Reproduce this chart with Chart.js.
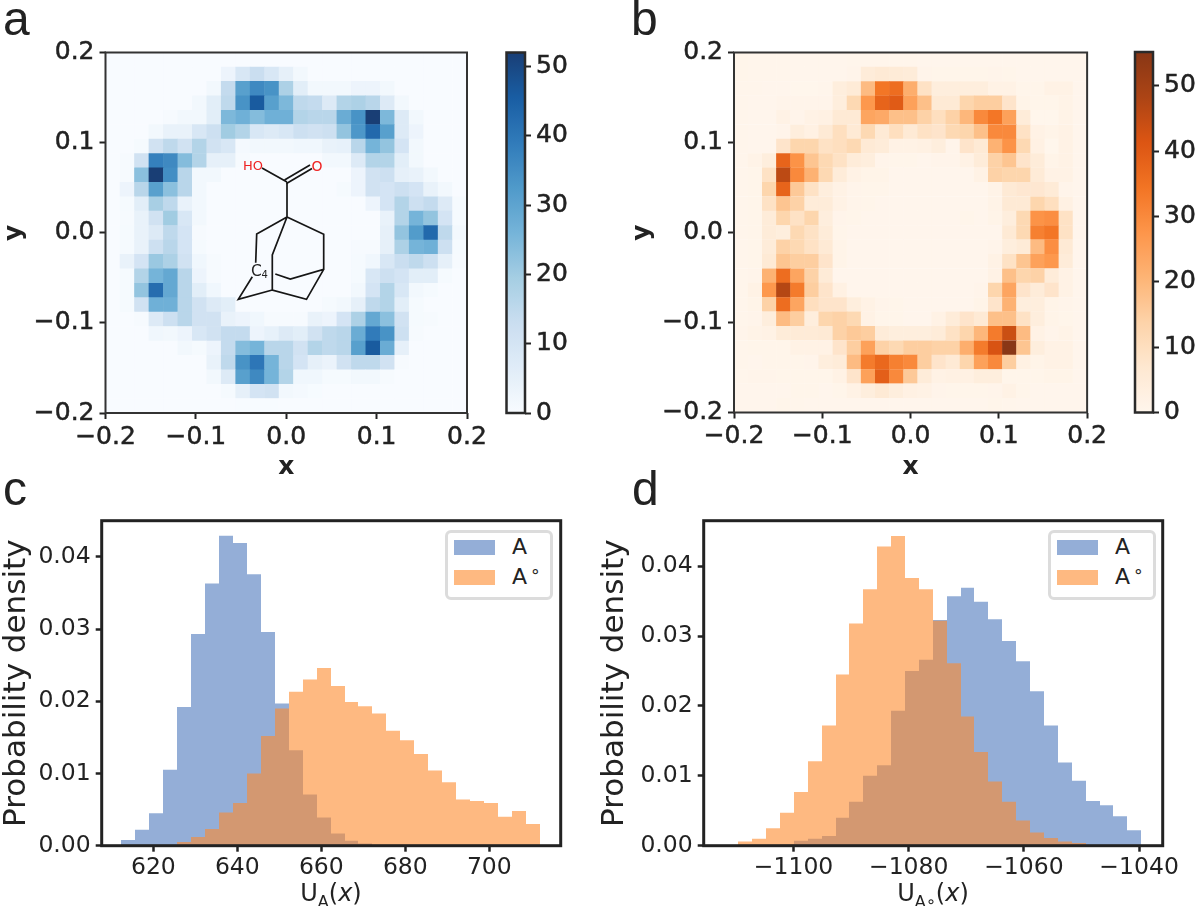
<!DOCTYPE html>
<html>
<head>
<meta charset="utf-8">
<script src="https://cdn.jsdelivr.net/npm/chart.js@4/dist/chart.umd.js"></script>
<style>
html,body{margin:0;padding:0;background:#fff;}
#page{position:relative;width:1200px;height:906px;overflow:hidden;background:#fff;color:#222;font-family:"DejaVu Sans",sans-serif;}
canvas{position:absolute;}
.letter{position:absolute;font-family:"Liberation Sans",sans-serif;font-size:48px;line-height:48px;color:#222;}
.xlabel{position:absolute;font-size:24px;line-height:28px;white-space:nowrap;color:#222;text-align:center;}
.xlabel sub{font-size:16px;line-height:0;vertical-align:-6px;}
.legend{position:absolute;top:530px;width:102px;height:64px;border:3px solid #dcdcdc;border-radius:6px;background:#fff;}
.patch{position:absolute;left:6px;width:41px;height:14.5px;}
.ltxt{position:absolute;left:64px;font-size:22px;line-height:24px;color:#222;white-space:nowrap;}
.ring{font-size:17px;position:relative;top:-7px;margin-left:3px;}
#mol{position:absolute;left:0;top:0;}
</style>
</head>
<body>
<div id="page">
<canvas id="cA" width="490" height="480" style="left:0;top:0"></canvas>
<canvas id="cbA" width="110" height="480" style="left:490px;top:0"></canvas>
<canvas id="cB" width="500" height="480" style="left:610px;top:0"></canvas>
<canvas id="cbB" width="80" height="480" style="left:1120px;top:0"></canvas>
<canvas id="cC" width="585" height="426" style="left:0;top:480px"></canvas>
<canvas id="cD" width="610" height="426" style="left:590px;top:480px"></canvas>

<svg id="mol" width="600" height="420" fill="none" stroke="#161616" stroke-width="1.7">
  <path d="M262 168L287 182M287 182V217M287 217L323.7 234.3V269.3L290.3 279L275.3 274M323.7 269.3L306.5 299.3L272.3 290V255L287 217M272.3 290L238.3 299.3L252.3 276.7M255.7 262.7L256.7 234L287 217"/>
  <path d="M286.5 183.5L312 168.5M284.5 180L310 165"/>
  <text x="243" y="170" fill="#ee2222" stroke="none" font-family="DejaVu Sans" font-size="13">HO</text>
  <text x="311.5" y="170.5" fill="#ee2222" stroke="none" font-family="DejaVu Sans" font-size="14">O</text>
  <text x="251" y="275.5" fill="#222" stroke="none" font-family="DejaVu Sans" font-size="15.5">C</text>
  <text x="261.5" y="277.5" fill="#222" stroke="none" font-family="DejaVu Sans" font-size="10">4</text>
</svg>

<div class="letter" style="left:3px;top:-5px">a</div>
<div class="letter" style="left:631px;top:-5px">b</div>
<div class="letter" style="left:3px;top:465px">c</div>
<div class="letter" style="left:632px;top:465px">d</div>

<div class="xlabel" style="left:231px;width:200px;top:879px">U<sub>A</sub>(<i>x</i>)</div>
<div class="xlabel" style="left:833px;width:200px;top:879px">U<sub>A∘</sub>(<i>x</i>)</div>

<div class="legend" style="left:445px">
  <div class="patch" style="top:7px;background:rgba(76,120,188,.6)"></div><div class="ltxt" style="top:2px">A</div>
  <div class="patch" style="top:37px;background:rgba(253,138,45,.6)"></div><div class="ltxt" style="top:32px">A<span class="ring">∘</span></div>
</div>
<div class="legend" style="left:1048px">
  <div class="patch" style="top:7px;background:rgba(76,120,188,.6)"></div><div class="ltxt" style="top:2px">A</div>
  <div class="patch" style="top:37px;background:rgba(253,138,45,.6)"></div><div class="ltxt" style="top:32px">A<span class="ring">∘</span></div>
</div>
</div>

<script>
// ---------- data ----------
const heatA = [
[0,0,0,0,0,0,0,0,0,0,0,0,0,0,0,0,0,0,0,0,0,0,0,0,0],
[0,0,0,0,0,0,0,0,3,9,13,9,5,1.5,0,0,0,0,0,0,0,0,0,0,0],
[0,0,0,0,0,0,0,1.5,14,31,36,34,18,6,1.5,1.5,1.5,3,3,1.5,0,0,0,0,0],
[0,0,0,0,0,0,1.5,6,15,34,46,31,25,15,14,7.5,17,18,16,7.5,1.5,0,0,0,0],
[0,0,0,0,0.5,1.5,1.5,6,25,27,24,27,27,17,16,16,28,34,52,25,7.5,1.5,0,0,0],
[0,0,0,1.5,4,4,9,12,20,17,9,7.5,9,12,11,12,22,33,43,31,7.5,3,0,0,0],
[0,0,0.7,11,15,11,17,11,9,1,1.5,1.5,1.5,2,2,4,4.5,16,26,22,10,1.5,0,0,0],
[0,0.5,11,38,36,24,17,5,5,0.5,0,0,0,0,0,1.5,1.5,7.5,17,17,6,1.5,0,0,0],
[0,0.5,23,52,35,16,1.5,1.5,0,0,0,0,0,0,0,0,0,3,11,12,5,4,1.5,0,0],
[0,3,16,31,23,16,1.5,0,0,0,0,0,0,0,0,0,0.7,3,11,10,12,10,4,1.5,0],
[0,0.7,6,19,15,4,1.5,0,0,0,0,0,0,0,0,0,0,0,3,10,17,12,14,7.5,0.7],
[0,0.5,4,11,20,9,1.5,0,0,0,0,0,0,0,0,0,0,0,0,4,17,26,22,10,0.7],
[0,0.7,4,7.5,15,10,0.5,0,0,0,0,0,0,0,0,0,0,0,0,5,22,32,43,15,1.5],
[0,0.7,4,12,16,10,0.7,0,0,0,0,0,0,0,0,0,0,0.5,0.5,5,18,26,27,12,0.7],
[0,4,10,21,18,11,2,0.5,0,0,0,0,0,0,0,0,0,0.7,2,9,13,15,12,5,0.5],
[0,0.7,17,26,29,16,3,0.5,0,0,0,0,0,0,0,0,0,0.7,9,12,10,6,6,0.7,0],
[0,0.7,22,42,29,16,6,2,0,0,0,0,0,0,0,0,0,1.5,10,17,9,1.5,0.7,0,0],
[0,0.7,11,27,27,16,11,7.5,6,0,0,0,0,0,0,0.7,1.5,5,15,17,6,0.7,0,0,0],
[0,0,0.5,7.5,12,16,11,11,4,3,2,0.5,0.5,0.5,4,3,10,18,29,23,11,0.7,0.5,0,0],
[0,0,0,2,1.5,3,9,11,14,14,3,4.5,7.5,6,11,15,16,28,39,34,12,0.5,0,0,0],
[0,0,0,0,0,1.5,0.7,3,14,24,26,16,16,11,17,15,16,31,46,28,5,0,0,0,0],
[0,0,0,0,0,0,0,4,15,34,40,26,16,10,5,3.5,11,15,15,11,0.5,0,0,0,0],
[0,0,0,0,0,0,0,1.5,7.5,31,36,26,17,2,2,0.7,0.7,1.5,1.5,0.5,0,0,0,0,0],
[0,0,0,0,0,0,0,0,0.7,5,10,11,1.5,1,0.3,0,0,0,0,0,0,0,0,0,0],
[0,0,0,0,0,0,0,0,0,0.2,0.2,0.2,0,0,0,0,0,0,0,0,0,0,0,0,0]
];
const heatB = [
[0.5,0.3,0.3,0.3,0.2,0.2,0.2,0.2,0.3,0.3,0.3,0.3,0.3,0.2,0.2,0.2,0.2,0.2,0.2,0.2,0.2,0.2,0.2,0.2,0.2],
[0.5,0.3,0.3,0.3,0.2,0.2,0.2,0.2,0.7,5,6,5.5,5,0.7,0.5,0.5,0.5,0.5,0.7,0.5,0.2,0.2,0.2,0.2,0.2],
[0.3,0.3,0.2,0.2,0,0,0.3,4,5.5,19,34,36,22,9,4,4,4,4,2,2,0.5,0.5,2,2,0.2],
[0.3,0.2,0.2,0.7,0.7,0.7,0.7,4,12,27,38,40,25,18,6,6,13,15,15,8,1,0.5,0.5,1.5,0.2],
[0.3,0.2,0.2,2,0.7,2,2.5,6,6,24,23,18,18,14,10,14,20,30,34,25,5,0,0,1.5,0.2],
[0.3,0.2,0.2,0.7,4,2.5,6,10,6,12,6,10,6,9,8,12,13,18,30,30,9,2,1,2,0.2],
[0.3,0.2,0.2,8,13,13,9,10,12,6,5,2,2,2.5,4,0.7,8,6,21,28,12,2.5,0,2,0.2],
[0.3,1.5,4,38,28,17,12,9,5,4,0.7,0.5,0.5,0.2,0.7,0.7,2,5,14,17,8,5,1,2,0.2],
[0.3,0.5,9,46,30,21,12,5,2,1,1,0.2,0.2,0.2,0.2,0.2,0.2,2,14,13,13,5.5,2,2,0.2],
[0.3,0.5,13,38,16,9,4,2,0.7,0.5,0.5,0.2,0.2,0.2,0.2,0.2,0.2,0.2,1.5,6,7,7,5.5,0.7,0.2],
[0.3,0.5,9,17,14,5,5,2,0.7,0.5,0.2,0.2,0.2,0.2,0.2,0.2,0.2,0.2,1.5,6,6,13,10,2.5,0.2],
[0.3,0.5,5,13,9,13,4,0.7,0.5,0.2,0.2,0.2,0.2,0.2,0.2,0.2,0.5,0.2,1,4,12,28,29,9,0.2],
[0.3,0.5,5,4,12,9,5,0.5,0.2,0.2,0.2,0.2,0.2,0.2,0.2,0.2,0.2,0.2,0.2,6,12,32,34,9,0.2],
[0.3,0.5,5,14,12,9,6,1,0.2,0.2,0.2,0.2,0.2,0.2,0.2,0.2,0.2,0.2,0.7,4,5.5,19,29,6,0.2],
[0.3,0.5,6,17,15,15,8,1,0.2,0.2,0.2,0.2,0.2,0.2,0.2,0.2,0.2,0.2,2,9,17,25,27,5,0.2],
[0.3,0.7,21,36,24,14,5.5,0.2,0.2,0.2,0.2,0.2,0.2,0.2,0.2,0.2,0.2,0.2,2,18,13,14,5,2,0.2],
[0.3,2,27,47,33,15,8,2.5,0.2,0.2,0.2,0.2,0.2,0.2,0.2,0.2,0.2,0.7,13,24,8,5,8,2,0.2],
[0.3,1,14,36,24,10,8,8,4,2,0.7,0.5,0.2,0.2,0.2,0.2,0.2,1,8,21,4,4,1,0.7,0.2],
[0.3,0.7,4,19,15,4,13,14,12,2,0.5,0.5,0.2,0.2,2,5,8,6,18,18,9,4,1,0.5,0.2],
[0.7,1.5,2,5,5.5,5.5,6,14,16,15,5,4,4,4,5,9,13,20,33,44,19,2,0.7,1.5,0.2],
[0.3,0.5,0.5,0.5,2,2,2,8,15,25,14,12,15,15,14,14,22,33,42,55,17,4,2,2,0.2],
[0.3,0.2,0.5,0.5,0.5,0.7,4,5,19,33,37,32,30,15,8,6,13,25,30,15,2.5,1,2,2,0.2],
[0.3,0.7,0.7,0.5,0.5,0.5,0.5,2,8,25,39,30,16,5,2,2.5,2.5,4,4,0.5,0.5,0.5,1,1,0.2],
[0.2,0.2,0.2,0.2,0.5,0.5,0.2,0.5,2,4,6,4,2.5,2,0.7,0.5,0.5,0.5,0.7,2,0.5,0.2,0.2,0.2,0.2],
[0.2,0.2,0.2,0.5,0.3,0.2,0.2,0.2,0.2,0.2,0.2,0.2,0.2,0.2,0.2,0.2,0.2,0.2,0.5,0.3,0.2,0.2,0.2,0.2,0.2]
];
const heatTicks = [-0.2,-0.1,0,0.1,0.2];
const barTicks = [0,10,20,30,40,50];
const densityTicksC = [0,0.01,0.02,0.03,0.04];
const densityTicksD = [0,0.01,0.02,0.03,0.04];
const xTicksC = [620,640,660,680,700];
const xTicksD = [-1100,-1080,-1060,-1040];
const binsC = [614.06,617.38,620.7,624.02,627.34,630.66,633.98,637.3,640.62,643.94,647.26,650.58,653.9,657.22,660.54,663.86,667.18,670.5,673.82,677.14,680.46,683.78,687.1,690.42,693.74,697.06,700.38,703.7,707.02,710.34];
const histCA = [.0008,.0022,.0045,.0105,.0192,.0293,.0363,.0429,.0419,.0376,.0296,.0197,.0132,.0071,.0039,.0017,.0007,.0003,.0001,0,0,0,0,0,0,0,0,0,0,0];
const histCB = [0,0,0,0,.0005,.0012,.0023,.0046,.0059,.0100,.0152,.0190,.0213,.0230,.0246,.0221,.0199,.0193,.0183,.0159,.0146,.0127,.0104,.0088,.0064,.0062,.0059,.0040,.0048,.0030];
const binsD = [-1108.39,-1105.98,-1103.57,-1101.15,-1098.74,-1096.33,-1093.91,-1091.5,-1089.09,-1086.68,-1084.26,-1081.85,-1079.44,-1077.02,-1074.61,-1072.2,-1069.79,-1067.37,-1064.96,-1062.55,-1060.13,-1057.72,-1055.31,-1052.9,-1050.48,-1048.07,-1045.66,-1043.24,-1040.83];
const histDA = [0,0,0,.0002,.0007,.0010,.0014,.0040,.0063,.0100,.0115,.0193,.0250,.0266,.0323,.0357,.0369,.0349,.0324,.0293,.0264,.0221,.0172,.0119,.0093,.0064,.0058,.0042,.0022];
const histDB = [.0006,.0010,.0025,.0047,.0077,.0121,.0172,.0245,.0318,.0367,.0428,.0443,.0383,.0367,.0322,.0261,.0185,.0134,.0092,.0063,.0036,.0019,.0011,.0006,.0004,.0001,0,0,0];
const seriesNames = ['A','A∘'];

// ---------- helpers ----------
const BLUES = ['#f7fbff','#deebf7','#c6dbef','#9ecae1','#6baed6','#4292c6','#2171b5','#08519c','#08306b'];
const ORANGES = ['#fff5eb','#fee6ce','#fdd0a2','#fdae6b','#fd8d3c','#f16913','#d94801','#a63603','#7f2704'];
const INK = '#222';
const ALPHA = 0.93;
const rgb = h => [1,3,5].map(i => parseInt(h.slice(i,i+2),16));
function cmap(stops, t){
  t = Math.max(0, Math.min(1, t));
  const p = t*(stops.length-1), i = Math.min(Math.floor(p), stops.length-2), f = p-i;
  const a = rgb(stops[i]), b = rgb(stops[i+1]);
  const c = a.map((v,j) => (v+(b[j]-v)*f)*ALPHA + 255*(1-ALPHA));
  return `rgb(${c.map(Math.round).join(',')})`;
}
const minus = s => s.replace('-', '\u2212');
const setTicks = arr => axis => { axis.ticks = arr.map(v => ({value:v})); };
const framePlugin = {
  id:'frame',
  afterDraw(chart, args, o){
    const {left,top,right,bottom} = chart.chartArea, c = chart.ctx;
    c.save(); c.strokeStyle = o.color || INK; c.lineWidth = o.width || 2;
    c.strokeRect(left,top,right-left,bottom-top); c.restore();
  }
};
// keep abutting translucent histogram bars on shared whole-pixel edges so no seams show
const snapPlugin = {
  id:'snap',
  afterDatasetsUpdate(chart){
    chart.getSortedVisibleDatasetMetas().forEach(m => {
      const xs = m.data.map(el => el.x), half = m.data[0].width/2;
      m.data.forEach((el,i) => {
        const l = Math.round(i ? (xs[i-1]+xs[i])/2 : xs[i]-half);
        const r = Math.round(i < xs.length-1 ? (xs[i]+xs[i+1])/2 : xs[i]+half);
        el.x = (l+r)/2; el.width = r-l;
      });
    });
  }
};
function tickGrid(len,w){
  return {drawOnChartArea:false, drawTicks:true, tickLength:len, tickWidth:w, tickColor:INK};
}

function heatChart(id, matrix, stops, vmax, box, yTitlePad){
  const BIN = 0.016, points = [];
  matrix.forEach((row,r) => row.forEach((v,k) => points.push({x:-0.2+(k+.5)*BIN, y:0.2-(r+.5)*BIN, v})));
  const font = {family:'DejaVu Sans', size:25};
  const tfont = {family:'DejaVu Sans', size:25, weight:'bold', lineHeight:1};
  new Chart(document.getElementById(id), {
    type:'scatter',
    data:{datasets:[{data:points, pointStyle:'rect', pointBorderWidth:0,
      pointBackgroundColor:c => cmap(stops, c.raw.v/vmax),
      pointRadius:c => { const s=c.chart.scales.x; return (Math.abs(s.getPixelForValue(BIN)-s.getPixelForValue(0))+0.5)/Math.SQRT2; }
    }]},
    plugins:[framePlugin],
    options:{responsive:false, animation:false, events:[],
      layout:{autoPadding:false, padding:{left:0, top:box.t-box.T, right:box.W-(box.r-box.L), bottom:0}},
      plugins:{legend:{display:false}, tooltip:{enabled:false}, frame:{width:2, color:'#333'}},
      scales:{
        x:{type:'linear', min:-0.2, max:0.2, afterBuildTicks:setTicks(heatTicks),
           afterFit:s=>{s.height=box.H-(box.b-box.T);},
           border:{display:false}, grid:tickGrid(6,2),
           ticks:{font, color:INK, padding:3, maxRotation:0, autoSkip:false, textStrokeColor:INK, textStrokeWidth:0.5, callback:v=>minus(v.toFixed(1))},
           title:{display:true, text:'x', font:tfont, color:INK, padding:{top:0,bottom:0}}},
        y:{type:'linear', min:-0.2, max:0.2, afterBuildTicks:setTicks(heatTicks),
           afterFit:s=>{s.width=box.l-box.L;},
           border:{display:false}, grid:tickGrid(6,2),
           ticks:{font, color:INK, padding:5, autoSkip:false, textStrokeColor:INK, textStrokeWidth:0.5, callback:v=>minus(v.toFixed(1))},
           title:{display:true, text:'y', font:tfont, color:INK, padding:{top:yTitlePad,bottom:0}}}
      }}
  });
}

function colorBar(id, stops, vmax, box){
  new Chart(document.getElementById(id), {
    type:'bar',
    data:{labels:[''], datasets:[{data:[[0,vmax]], barPercentage:1, categoryPercentage:1, inflateAmount:0,
      backgroundColor:c => {
        const a = c.chart.chartArea; if(!a) return stops[0];
        const g = c.chart.ctx.createLinearGradient(0,a.bottom,0,a.top);
        for(let i=0;i<=32;i++) g.addColorStop(i/32, cmap(stops,i/32));
        return g;
      }}]},
    plugins:[framePlugin],
    options:{responsive:false, animation:false, events:[],
      layout:{autoPadding:false, padding:{left:box.l-box.L, top:box.t-box.T, right:0, bottom:box.H-(box.b-box.T)}},
      plugins:{legend:{display:false}, tooltip:{enabled:false}, frame:{width:2.5, color:'#2a2a2a'}},
      scales:{
        x:{display:false},
        y:{position:'right', min:0, max:vmax, afterBuildTicks:setTicks(barTicks),
           afterFit:s=>{s.width=box.W-(box.r-box.L);},
           border:{display:false}, grid:tickGrid(6,2),
           ticks:{font:{family:'DejaVu Sans',size:25}, color:INK, padding:5, autoSkip:false, textStrokeColor:INK, textStrokeWidth:0.5}}
      }}
  });
}

function histChart(id, bins, a, b, xr, ymax, xTicks, yTicks, box, titlePad){
  const pts = arr => arr.map((y,i) => ({x:bins[i], y}));
  const font = {family:'DejaVu Sans', size:23.5};
  new Chart(document.getElementById(id), {
    type:'bar',
    data:{datasets:[
      {label:seriesNames[0], data:pts(a), backgroundColor:'rgba(76,120,188,.6)', barPercentage:1, categoryPercentage:1, inflateAmount:0, grouped:false, order:2},
      {label:seriesNames[1], data:pts(b), backgroundColor:'rgba(253,138,45,.6)', barPercentage:1, categoryPercentage:1, inflateAmount:0, grouped:false, order:1}
    ]},
    plugins:[snapPlugin, framePlugin],
    options:{responsive:false, animation:false, events:[],
      layout:{autoPadding:false, padding:{left:0, top:box.t-box.T, right:box.W-(box.r-box.L), bottom:0}},
      plugins:{legend:{display:false}, tooltip:{enabled:false}, frame:{width:3, color:'#222'}},
      scales:{
        x:{type:'linear', offset:false, min:xr[0], max:xr[1], afterBuildTicks:setTicks(xTicks),
           afterFit:s=>{s.height=box.H-(box.b-box.T);},
           border:{display:false}, grid:Object.assign(tickGrid(6,2.5),{offset:false}),
           ticks:{font, color:INK, padding:2, maxRotation:0, autoSkip:false, callback:v=>minus(String(v))}},
        y:{type:'linear', min:0, max:ymax, afterBuildTicks:setTicks(yTicks),
           afterFit:s=>{s.width=box.l-box.L;},
           border:{display:false}, grid:tickGrid(6,2.5),
           ticks:{font, color:INK, padding:5, autoSkip:false, callback:v=>v.toFixed(2)},
           title:{display:true, text:'Probability density', font:{family:'DejaVu Sans',size:31,lineHeight:1}, color:INK, padding:{top:titlePad,bottom:0}}}
      }}
  });
}

heatChart('cA', heatA, BLUES, 52, {L:0,T:0,W:490,H:480,l:105.5,t:52.5,r:467,b:413}, 1.5);
colorBar('cbA', BLUES, 52, {L:490,T:0,W:110,H:480,l:506.5,t:52.5,r:525,b:413});
heatChart('cB', heatB, ORANGES, 55.2, {L:610,T:0,W:500,H:480,l:734,t:52.5,r:1095,b:412.5}, 20);
colorBar('cbB', ORANGES, 55.2, {L:1120,T:0,W:80,H:480,l:1135,t:52,r:1153,b:412.5});
histChart('cC', binsC, histCA, histCB, [607.7,717], 0.045, xTicksC, densityTicksC, {L:0,T:480,W:585,H:426,l:101.7,t:520.7,r:560.7,b:845.7}, 1.5);
histChart('cD', binsD, histDA, histDB, [-1115.6,-1035.9], 0.0465, xTicksD, densityTicksD, {L:590,T:480,W:610,H:426,l:703.7,t:520.7,r:1162.7,b:845.7}, 9.5);
</script>
</body>
</html>
